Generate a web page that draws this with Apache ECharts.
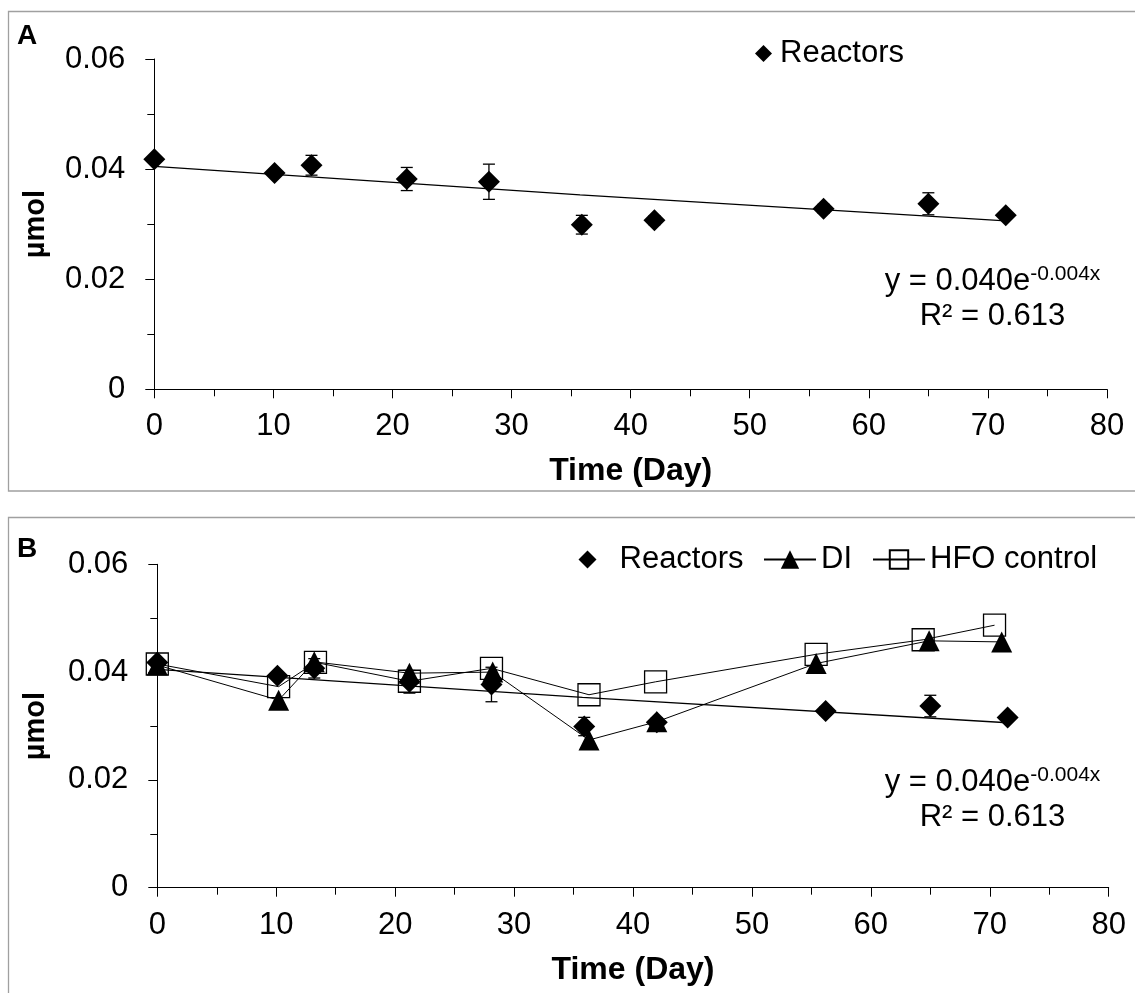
<!DOCTYPE html>
<html><head><meta charset="utf-8">
<script src="https://cdn.jsdelivr.net/npm/echarts@6/dist/echarts.min.js"></script>
<style>html,body{margin:0;padding:0;background:#fff}#c{width:1135px;height:993px}</style>
</head><body><div id="c"></div>
<script>
// ---- data ----
const reactorDays = [0, 10.1, 13.2, 21.2, 28.1, 35.9, 42.0, 56.2, 65.0, 71.5];
const reactorUmol = [0.0418, 0.0393, 0.0407, 0.0382, 0.0377, 0.0299, 0.0307, 0.0328, 0.0337, 0.0316];
const reactorErr  = [0.0005, 0.0006, 0.0018, 0.0021, 0.0032, 0.0017, 0.0008, 0.0008, 0.0020, 0.0006];

const diDays = [0, 10.2, 13.2, 21.2, 28.2, 36.3, 42.0, 55.4, 64.9, 71.0];
const diUmol = [0.0413, 0.0348, 0.0419, 0.0398, 0.0400, 0.0274, 0.0308, 0.0416, 0.0458, 0.0456];

const hfoDays = [0, 10.2, 13.3, 21.2, 28.1, 36.3, 41.9, 55.4, 64.4, 70.4];
const hfoUmol = [0.0415, 0.0373, 0.0418, 0.0383, 0.0407, 0.0358, 0.0382, 0.0433, 0.0460, 0.0487];

// exponential trend line
const trendDays = [0, 35.75, 71.5];
const trendUmol = [0.0405, 0.0353, 0.0306];

const xTicks = {min: 0, max: 80, interval: 10};
const yTicks = {min: 0, max: 0.06, interval: 0.02};
const eqLine1 = 'y = 0.040e';
const eqSup = '-0.004x';
const eqLine2 = 'R² = 0.613';

// ---- chart ----
const FONT = '"Liberation Sans", Arial, sans-serif';
const FS = 31;
const chart = echarts.init(document.getElementById('c'));

const pts = (xs, ys) => xs.map((x, i) => [x, ys[i]]);
const errPts = (xs, ys, es) => xs.map((x, i) => [x, ys[i], es[i]]);

function errorRender(params, api) {
  const x = api.value(0), y = api.value(1), e = api.value(2);
  const t = api.coord([x, y + e]), b = api.coord([x, y - e]);
  const hw = 6;
  const st = {stroke: '#000', lineWidth: 1.3};
  return {type: 'group', children: [
    {type: 'line', shape: {x1: t[0], y1: t[1], x2: b[0], y2: b[1]}, style: st},
    {type: 'line', shape: {x1: t[0] - hw, y1: t[1], x2: t[0] + hw, y2: t[1]}, style: st},
    {type: 'line', shape: {x1: b[0] - hw, y1: b[1], x2: b[0] + hw, y2: b[1]}, style: st}
  ]};
}

function xAxisFor(g) {
  return {
    gridIndex: g, type: 'value', min: xTicks.min, max: xTicks.max, interval: xTicks.interval,
    axisLine: {onZero: false, lineStyle: {color: '#000', width: 1}},
    axisTick: {show: true, length: 9, lineStyle: {color: '#000', width: 1}},
    minorTick: {show: true, splitNumber: 2, length: 7, lineStyle: {color: '#000', width: 1}},
    splitLine: {show: false}, minorSplitLine: {show: false},
    axisLabel: {margin: 22, fontSize: FS, color: '#000', fontFamily: FONT},
    name: 'Time (Day)', nameLocation: 'middle', nameGap: 66,
    nameTextStyle: {fontSize: 32, fontWeight: 'bold', color: '#000', fontFamily: FONT}
  };
}
function yAxisFor(g, gap) {
  return {
    gridIndex: g, type: 'value', min: yTicks.min, max: yTicks.max, interval: yTicks.interval,
    axisLine: {show: true, onZero: false, lineStyle: {color: '#000', width: 1}},
    axisTick: {show: true, length: 9, lineStyle: {color: '#000', width: 1}},
    minorTick: {show: true, splitNumber: 2, length: 7, lineStyle: {color: '#000', width: 1}},
    splitLine: {show: false}, minorSplitLine: {show: false},
    axisLabel: {margin: 29, fontSize: FS, color: '#000', fontFamily: FONT},
    name: 'µmol', nameLocation: 'middle', nameGap: gap,
    nameTextStyle: {fontSize: 29, fontWeight: 'bold', color: '#000', fontFamily: FONT}
  };
}

const diamond = {symbol: 'diamond', symbolSize: 22, itemStyle: {color: '#000', opacity: 1}};
const trendStyle = {symbol: 'none', lineStyle: {color: '#000', width: 1.3}, silent: true};
const legendText = {fontSize: FS, color: '#000', fontFamily: FONT};

const option = {
  animation: false,
  backgroundColor: '#fff',
  textStyle: {fontFamily: FONT},
  grid: [
    {left: 154.3, top: 59, width: 952.7, height: 330.3},
    {left: 157.3, top: 564.3, width: 951.4, height: 323.4}
  ],
  xAxis: [xAxisFor(0), xAxisFor(1)],
  yAxis: [yAxisFor(0, 104), yAxisFor(1, 107)],
  legend: [
    {data: ['Reactors'], left: 755, top: 38, padding: 0, itemWidth: 17, itemHeight: 17, selectedMode: false,
     textStyle: Object.assign({padding: [0, 0, 0, 3]}, legendText)},
    {data: ['Reactors'], left: 578.5, top: 544, padding: 0, itemWidth: 18, itemHeight: 18, selectedMode: false,
     textStyle: Object.assign({padding: [0, 0, 0, 18]}, legendText)},
    {data: ['DI', 'HFO control'], left: 763, top: 544, padding: 0, itemWidth: 52, itemHeight: 23, itemGap: 20,
     selectedMode: false, textStyle: legendText}
  ],
  series: [
    // Panel A
    Object.assign({name: 'trendA', type: 'line', xAxisIndex: 0, yAxisIndex: 0, z: 1,
      data: pts(trendDays, trendUmol)}, trendStyle),
    {name: 'errA', type: 'custom', xAxisIndex: 0, yAxisIndex: 0, z: 2,
      renderItem: errorRender, encode: {x: 0, y: 1}, data: errPts(reactorDays, reactorUmol, reactorErr)},
    Object.assign({name: 'Reactors', type: 'scatter', xAxisIndex: 0, yAxisIndex: 0, z: 3,
      data: pts(reactorDays, reactorUmol)}, diamond),
    // Panel B
    Object.assign({name: 'trendB', type: 'line', xAxisIndex: 1, yAxisIndex: 1, z: 1,
      data: pts(trendDays, trendUmol)}, trendStyle),
    {name: 'errB', type: 'custom', xAxisIndex: 1, yAxisIndex: 1, z: 2,
      renderItem: errorRender, encode: {x: 0, y: 1}, data: errPts(reactorDays, reactorUmol, reactorErr)},
    Object.assign({name: 'Reactors', type: 'scatter', xAxisIndex: 1, yAxisIndex: 1, z: 3,
      data: pts(reactorDays, reactorUmol)}, diamond),
    {name: 'DI', type: 'line', xAxisIndex: 1, yAxisIndex: 1, z: 4, color: '#000',
      symbol: 'triangle', symbolSize: 21, showAllSymbol: true,
      itemStyle: {color: '#000', opacity: 1}, lineStyle: {color: '#000', width: 1},
      data: pts(diDays, diUmol)},
    {name: 'HFO control', type: 'line', xAxisIndex: 1, yAxisIndex: 1, z: 5, color: '#000',
      symbol: 'rect', symbolSize: 22, showAllSymbol: true,
      itemStyle: {color: 'rgba(255,255,255,0)', borderColor: '#000', borderWidth: 1.3},
      lineStyle: {color: '#000', width: 1},
      data: pts(hfoDays, hfoUmol)}
  ],
  graphic: [
    {type: 'rect', silent: true, z: -10, shape: {x: 8.5, y: 11.5, width: 1200, height: 479.5},
     style: {fill: 'none', stroke: '#a0a0a0', lineWidth: 1.3}},
    {type: 'rect', silent: true, z: -10, shape: {x: 8.5, y: 517.5, width: 1200, height: 520},
     style: {fill: 'none', stroke: '#a0a0a0', lineWidth: 1.3}},
    {type: 'text', left: 17, top: 22, style: {text: 'A', font: 'bold 28px ' + FONT, fill: '#000'}},
    {type: 'text', left: 17, top: 535, style: {text: 'B', font: 'bold 28px ' + FONT, fill: '#000'}},
    {type: 'text', x: 992.5, y: 264, style: {
      text: '{m|' + eqLine1 + '}{s|' + eqSup + '}\n{m|' + eqLine2 + '}',
      align: 'center', verticalAlign: 'top', fill: '#000',
      rich: {m: {fontSize: FS, lineHeight: 35, fontFamily: FONT, color: '#000'},
             s: {fontSize: 21, lineHeight: 28, verticalAlign: 'top', fontFamily: FONT, color: '#000'}}
    }},
    {type: 'text', x: 992.5, y: 765, style: {
      text: '{m|' + eqLine1 + '}{s|' + eqSup + '}\n{m|' + eqLine2 + '}',
      align: 'center', verticalAlign: 'top', fill: '#000',
      rich: {m: {fontSize: FS, lineHeight: 35, fontFamily: FONT, color: '#000'},
             s: {fontSize: 21, lineHeight: 28, verticalAlign: 'top', fontFamily: FONT, color: '#000'}}
    }}
  ]
};
chart.setOption(option);
</script></body></html>
